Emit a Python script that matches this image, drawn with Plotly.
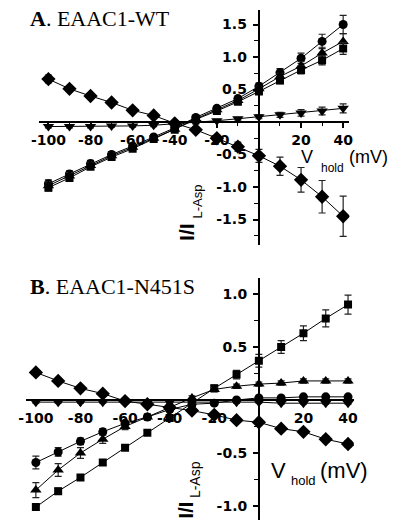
import plotly.graph_objects as go

# ---------------- data ----------------
V = [-100, -90, -80, -70, -60, -50, -40, -30, -20, -10, 0, 10, 20, 30, 40]

# Panel A: EAAC1-WT
A_circle = [-0.95, -0.80, -0.64, -0.50, -0.37, -0.23, -0.09, 0.07, 0.21, 0.36, 0.55, 0.76, 0.98, 1.24, 1.50]
A_circle_err = [0.06, 0.05, 0.05, 0.04, 0.04, 0.03, 0.03, 0.03, 0.03, 0.04, 0.05, 0.06, 0.08, 0.11, 0.14]
A_tri = [-0.98, -0.83, -0.67, -0.52, -0.39, -0.25, -0.11, 0.05, 0.19, 0.33, 0.51, 0.70, 0.86, 1.06, 1.24]
A_tri_err = [0.06, 0.05, 0.05, 0.04, 0.04, 0.03, 0.03, 0.03, 0.03, 0.03, 0.04, 0.05, 0.07, 0.09, 0.12]
A_square = [-1.01, -0.86, -0.69, -0.54, -0.41, -0.26, -0.12, 0.04, 0.17, 0.31, 0.47, 0.64, 0.80, 0.95, 1.13]
A_square_err = [0.05, 0.05, 0.04, 0.04, 0.03, 0.03, 0.03, 0.03, 0.03, 0.03, 0.04, 0.05, 0.06, 0.07, 0.09]
A_tridown = [-0.07, -0.07, -0.07, -0.06, -0.06, -0.05, -0.03, -0.01, 0.02, 0.05, 0.08, 0.11, 0.14, 0.17, 0.21]
A_tridown_err = [0.02, 0.02, 0.02, 0.02, 0.02, 0.02, 0.02, 0.02, 0.02, 0.02, 0.03, 0.04, 0.05, 0.06, 0.07]
A_diamond = [0.66, 0.51, 0.40, 0.30, 0.18, 0.10, -0.02, -0.12, -0.25, -0.38, -0.52, -0.68, -0.89, -1.15, -1.45]
A_diamond_err = [0.06, 0.04, 0.03, 0.03, 0.03, 0.02, 0.02, 0.03, 0.04, 0.07, 0.10, 0.14, 0.19, 0.25, 0.31]

# Panel B: EAAC1-N451S
B_square = [-1.01, -0.86, -0.73, -0.59, -0.45, -0.31, -0.17, -0.03, 0.11, 0.24, 0.37, 0.50, 0.63, 0.77, 0.90]
B_square_err = [0.03, 0.03, 0.02, 0.02, 0.02, 0.02, 0.02, 0.03, 0.03, 0.04, 0.06, 0.06, 0.07, 0.08, 0.09]
B_tri = [-0.85, -0.66, -0.50, -0.37, -0.25, -0.16, -0.07, 0.02, 0.10, 0.13, 0.15, 0.16, 0.18, 0.18, 0.18]
B_tri_err = [0.07, 0.06, 0.05, 0.04, 0.03, 0.03, 0.03, 0.02, 0.02, 0.02, 0.02, 0.02, 0.02, 0.02, 0.02]
B_circle = [-0.59, -0.49, -0.39, -0.30, -0.22, -0.16, -0.09, -0.04, -0.03, 0.00, 0.02, 0.02, 0.03, 0.03, 0.03]
B_circle_err = [0.06, 0.04, 0.03, 0.03, 0.02, 0.02, 0.02, 0.02, 0.02, 0.01, 0.01, 0.01, 0.01, 0.01, 0.01]
B_tridown = [-0.02, -0.02, -0.02, -0.02, -0.02, -0.02, -0.02, -0.02, -0.02, -0.02, -0.02, -0.03, -0.03, -0.03, -0.03]
B_tridown_err = [0.01] * 15
B_diamond = [0.26, 0.18, 0.11, 0.06, -0.01, -0.04, -0.07, -0.10, -0.14, -0.19, -0.21, -0.27, -0.30, -0.37, -0.415]
B_diamond_err = [0.02, 0.02, 0.02, 0.02, 0.02, 0.02, 0.02, 0.02, 0.02, 0.02, 0.02, 0.02, 0.02, 0.03, 0.03]

X_TICKS = [-100, -80, -60, -40, -20, 20, 40]
X_TICKTEXT = ["-100", "-80", "-60", "-40", "-20", "20", "40"]
A_Y_TICKS = [-1.5, -1.0, -0.5, 0.5, 1.0, 1.5]
A_Y_TICKTEXT = ["-1.5", "-1.0", "-0.5", "0.5", "1.0", "1.5"]
B_Y_TICKS = [-1.0, -0.5, 0.5, 1.0]
B_Y_TICKTEXT = ["-1.0", "-0.5", "0.5", "1.0"]

# ---------------- figure ----------------
W, H = 394, 523
fig = go.Figure()


def add_series(x, y, err, symbol, size, xa, ya):
    fig.add_trace(go.Scatter(
        x=x, y=y, mode="lines+markers", xaxis=xa, yaxis=ya,
        line=dict(color="black", width=1),
        marker=dict(symbol=symbol, size=size, color="black"),
        error_y=dict(type="data", array=err, visible=True, color="#222222",
                     thickness=1.2, width=3.5),
        showlegend=False, hoverinfo="skip"))


for y, e, s, sz in [(A_circle, A_circle_err, "circle", 9),
                    (A_tri, A_tri_err, "triangle-up", 10),
                    (A_square, A_square_err, "square", 8),
                    (A_tridown, A_tridown_err, "triangle-down", 10),
                    (A_diamond, A_diamond_err, "diamond", 11)]:
    add_series(V, y, e, s, sz, "x", "y")

for y, e, s, sz in [(B_square, B_square_err, "square", 8),
                    (B_tri, B_tri_err, "triangle-up", 10),
                    (B_circle, B_circle_err, "circle", 9),
                    (B_tridown, B_tridown_err, "triangle-down", 10),
                    (B_diamond, B_diamond_err, "diamond", 11)]:
    add_series(V, y, e, s, sz, "x2", "y2")

tickfont = dict(family="DejaVu Sans", size=14, color="black", weight="bold")


def xaxis(domain, rng, pos):
    return dict(domain=domain, range=rng, anchor="free", position=pos,
                showline=True, linecolor="black", linewidth=1.6,
                showgrid=False, zeroline=False,
                ticks="outside", ticklen=5, tickwidth=1.5, tickcolor="black",
                tickvals=X_TICKS, ticktext=X_TICKTEXT, tickfont=tickfont,
                minor=dict(tickmode="linear", tick0=0, dtick=10, ticklen=3,
                           tickwidth=1.2, tickcolor="black", ticks="outside",
                           showgrid=False))


def yaxis(domain, rng, pos, tv, tt):
    return dict(domain=domain, range=rng, anchor="free", position=pos,
                showline=True, linecolor="black", linewidth=1.6,
                showgrid=False, zeroline=False,
                ticks="outside", ticklen=5, tickwidth=1.5, tickcolor="black",
                tickvals=tv, ticktext=tt, tickfont=tickfont, ticklabelstandoff=3,
                minor=dict(tickmode="linear", tick0=0, dtick=0.25, ticklen=4,
                           tickwidth=1.2, tickcolor="black", ticks="outside",
                           showgrid=False))


def px_x(p):
    return p / W


def px_y(p):
    return (H - p) / H


fig.update_layout(
    width=W, height=H,
    margin=dict(l=0, r=0, t=0, b=0),
    paper_bgcolor="white", plot_bgcolor="rgba(0,0,0,0)",
    showlegend=False,
    xaxis=xaxis([px_x(31.7), px_x(352.2)], [-104.6, 43.0], px_y(122)),
    yaxis=yaxis([px_y(245), px_y(10)], [-1.892, 1.723], px_x(258.4), A_Y_TICKS, A_Y_TICKTEXT),
    xaxis2=xaxis([px_x(18.4), px_x(356.7)], [-104.5, 42.6], px_y(400)),
    yaxis2=yaxis([px_y(520), px_y(278)], [-1.132, 1.151], px_x(258.7), B_Y_TICKS, B_Y_TICKTEXT),
)

ann = []


def txt(text, x, y, size, family="Liberation Sans", weight="normal", xanchor="left",
        yanchor="middle", angle=0):
    ann.append(dict(text=text, x=px_x(x), y=px_y(y), xref="paper", yref="paper",
                    xanchor=xanchor, yanchor=yanchor, showarrow=False, textangle=angle,
                    borderpad=0,
                    font=dict(family=family, size=size, color="black", weight=weight)))


# panel titles
txt("<b>A</b>. EAAC1-WT", 22, 18.5, 22, family="Liberation Serif")
txt("<b>B</b>. EAAC1-N451S", 22, 286, 22, family="Liberation Serif")

# x-axis labels
txt("V", 301, 156.7, 18)
txt("hold", 322, 167.5, 12)
txt("(mV)", 351, 156.7, 18)
txt("V", 270.5, 470.6, 22)
txt("hold", 291, 480.5, 13)
txt("(mV)", 321, 470.6, 22)

# y-axis labels
txt("I/I", 184.5, 232, 21, weight="bold", xanchor="center", angle=-90)
txt("L-Asp", 195, 201.5, 13, xanchor="center", angle=-90)
txt("I/I", 184, 510, 20, weight="bold", xanchor="center", angle=-90)
txt("L-Asp", 193, 480, 14, xanchor="center", angle=-90)

fig.update_layout(annotations=ann)

fig.write_html("out.html", config={"displayModeBar": False},
               post_script="document.body.style.margin='0';document.body.style.padding='0';")
